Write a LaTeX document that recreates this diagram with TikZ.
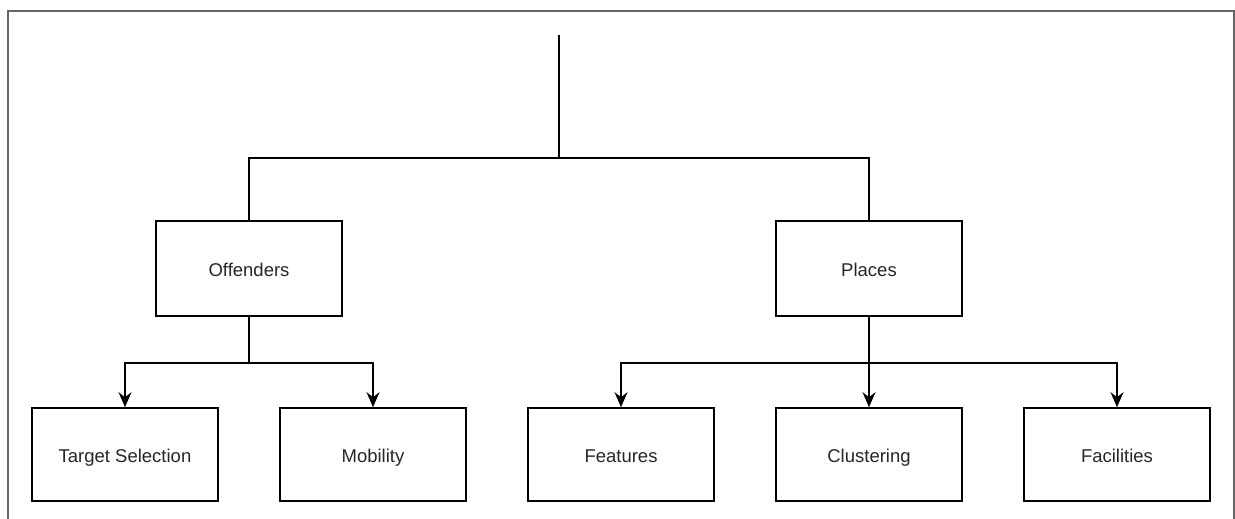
\documentclass[tikz,border=0pt]{standalone}
\usepackage{fontspec}
\setmainfont{Liberation Sans}
\usetikzlibrary{arrows.meta}
\begin{document}
\begin{tikzpicture}[x=1pt,y=1pt,
  box/.style={draw, line width=1.6pt, minimum width=186pt, inner sep=0pt, text height=18pt, text depth=2pt, font=\fontsize{18.5}{22}\selectfont, text=black!85},
  upper/.style={box, minimum height=95pt},
  lower/.style={box, minimum height=93pt},
  conn/.style={line width=1.6pt},
  arr/.style={conn, -{Stealth[length=15pt,width=13pt,inset=5pt]}}]
\useasboundingbox (0,0) rectangle (1235,519);
\draw[line width=1.4pt, black!60] (8,0) -- (8,508) -- (1234,508) -- (1234,0);
\coordinate (top) at (559,484);
\node[upper] (off) at (249,250.5) {Offenders};
\node[upper] (pla) at (869,250.5) {Places};
\node[lower] (ts) at (125,64.5) {Target Selection};
\node[lower] (mob) at (373,64.5) {Mobility};
\node[lower] (fea) at (621,64.5) {Features};
\node[lower] (clu) at (869,64.5) {Clustering};
\node[lower] (fac) at (1117,64.5) {Facilities};
\draw[conn] (top) -- (559,361) coordinate (hub);
\draw[conn] (off.north) |- (hub) -| (pla.north);
\draw[arr] (off.south) |- (249,156) -| (ts.north);
\draw[arr] (off.south) |- (249,156) -| (mob.north);
\draw[arr] (pla.south) |- (869,156) -| (fea.north);
\draw[arr] (pla.south) -- (clu.north);
\draw[arr] (pla.south) |- (869,156) -| (fac.north);
\end{tikzpicture}
\end{document}
